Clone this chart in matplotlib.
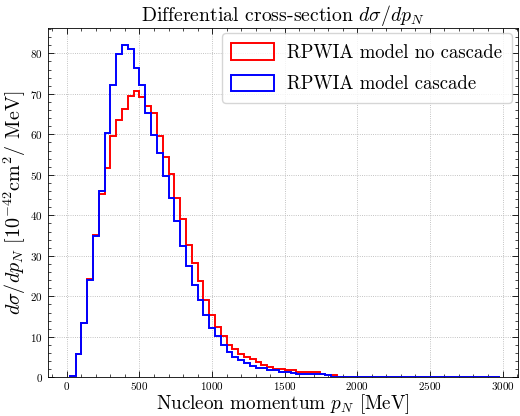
import numpy as np
import matplotlib
matplotlib.use("Agg")
import matplotlib.pyplot as plt
from matplotlib.ticker import MultipleLocator, AutoMinorLocator

plt.rcParams["font.family"] = "serif"
plt.rcParams["font.serif"] = ["cmr10", "DejaVu Serif"]
plt.rcParams["mathtext.fontset"] = "cm"
plt.rcParams["axes.formatter.use_mathtext"] = True

# bin edges (MeV), 40 MeV wide
edges = np.arange(20, 3001, 40)

# d sigma / dp_N per bin (tail beyond ~1860 MeV is zero)
no_cascade = [0.4, 5.7, 13.5, 24.3, 35.2, 45.2, 51.8, 59.6, 63.6, 66.2,
              69.5, 70.7, 69.2, 67.0, 65.2, 59.7, 54.3, 50.2, 44.3, 39.0,
              32.7, 28.2, 23.8, 19.1, 15.4, 12.5, 10.3, 8.1, 7.0, 5.7,
              5.0, 4.4, 3.8, 3.0, 2.6, 2.1, 2.0, 1.75, 1.7, 1.35,
              1.3, 1.3, 1.25, 0.93, 0.55, 0.5]
cascade = [0.4, 5.7, 13.5, 24.0, 34.9, 45.9, 60.4, 72.1, 79.8, 82.1,
           81.0, 76.4, 72.3, 65.2, 59.9, 55.4, 49.8, 44.4, 38.7, 32.5,
           27.4, 22.7, 19.2, 15.4, 12.1, 10.1, 7.9, 6.2, 5.1, 4.3,
           3.5, 2.8, 2.4, 2.4, 1.75, 1.7, 1.35, 1.3, 0.95, 0.9,
           0.9, 0.9, 0.7, 0.7, 0.65, 0.0]

nbins = len(edges) - 1
no_cascade = np.array(no_cascade + [0.0] * (nbins - len(no_cascade)))
cascade = np.array(cascade + [0.0] * (nbins - len(cascade)))

fig, ax = plt.subplots(figsize=(5.2, 4.16), dpi=100)
fig.subplots_adjust(left=0.092, right=0.996, top=0.933, bottom=0.093)

ax.hist(edges[:-1], bins=edges, weights=no_cascade, histtype="step",
        color="#ff0000", lw=1.4, label="RPWIA model no cascade")
ax.hist(edges[:-1], bins=edges, weights=cascade, histtype="step",
        color="#0000ff", lw=1.4, label="RPWIA model cascade")

ax.set_xlim(-131, 3106)
ax.set_ylim(0, 86.3)
ax.xaxis.set_major_locator(MultipleLocator(500))
ax.xaxis.set_minor_locator(AutoMinorLocator(5))
ax.yaxis.set_major_locator(MultipleLocator(10))
ax.yaxis.set_minor_locator(AutoMinorLocator(5))
ax.tick_params(which="both", direction="in", top=True, right=True,
               labelsize=8)
ax.tick_params(axis="x", which="major", pad=2)
ax.tick_params(which="major", length=4, width=0.6)
ax.tick_params(which="minor", length=2, width=0.5)
ax.grid(True, which="major", ls=":", lw=0.6, color="#b0b0b0")
for s in ax.spines.values():
    s.set_linewidth(0.6)

ax.set_title(r"Differential cross-section $d\sigma/dp_N$", fontsize=14.2,
             pad=4)
ax.set_xlabel(r"Nucleon momentum $p_N$ [MeV]", fontsize=13.8, labelpad=0)
ax.set_ylabel(r"$d\sigma/dp_N$ [$10^{-42}$cm$^2$/ MeV]", fontsize=14.5,
              labelpad=2)
ax.legend(loc="upper right", fontsize=13.5, fancybox=True, framealpha=0.8,
          edgecolor="#cccccc", handlelength=2.3, handleheight=1.0,
          handletextpad=0.7, labelspacing=0.7, borderpad=0.5,
          borderaxespad=0.2, bbox_to_anchor=(0.995, 0.995))

fig.savefig("out.png", dpi=100)
